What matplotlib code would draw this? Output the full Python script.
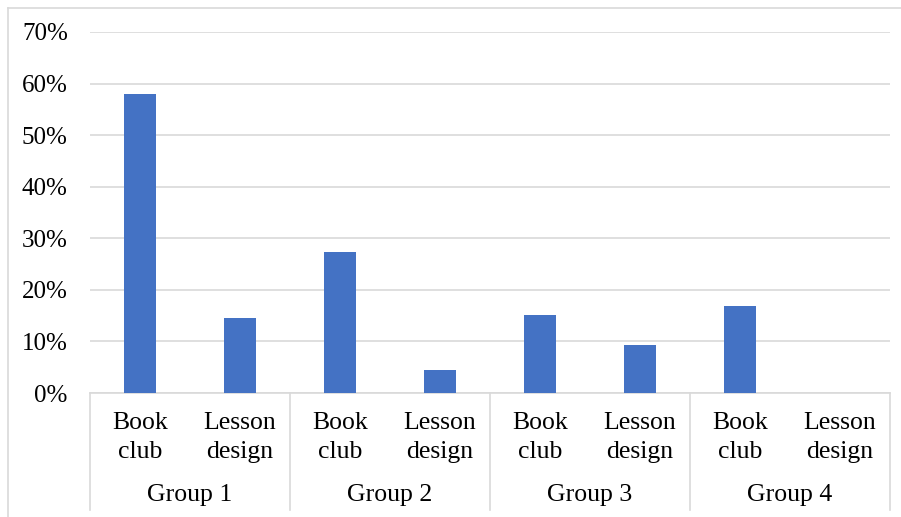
import matplotlib
matplotlib.use("Agg")
import matplotlib.pyplot as plt
from matplotlib.lines import Line2D
from matplotlib.ticker import PercentFormatter

groups = ['Group 1', 'Group 2', 'Group 3', 'Group 4']
activities = ['Book\nclub', 'Lesson\ndesign']
# share per group, order: book club, lesson design
values = {
    'Group 1': [0.58, 0.145],
    'Group 2': [0.273, 0.045],
    'Group 3': [0.151, 0.093],
    'Group 4': [0.169, 0.0],
}
yticks = [0, 0.1, 0.2, 0.3, 0.4, 0.5, 0.6, 0.7]

plt.rcParams['font.family'] = ['Liberation Serif', 'DejaVu Serif']
W, H = 901, 517
fig = plt.figure(figsize=(W / 100, H / 100), dpi=100)
ax = fig.add_axes([90 / W, (H - 393) / H, 800 / W, 361 / H])

bar_color = '#4472C4'
grid_color = '#D9D9D9'

x = 0
for g in groups:
    for v in values[g]:
        ax.bar(x, v, width=0.32, color=bar_color, zorder=3)
        x += 1
n = x

ax.set_xlim(-0.5, n - 0.5)
ax.set_ylim(0, 0.7)
ax.set_yticks(yticks)
ax.yaxis.set_major_formatter(PercentFormatter(1.0, decimals=0))
ax.tick_params(axis='y', length=0, pad=16, labelsize=18)
ax.set_xticks([])
ax.grid(axis='y', color=grid_color, linewidth=1.2, zorder=0)
for s in ax.spines.values():
    s.set_visible(False)

trans = ax.get_xaxis_transform()
# category axis line
ax.plot([-0.5, n - 0.5], [0, 0], color=grid_color, lw=1.2, transform=trans, clip_on=False, zorder=2)

i = 0
for gi, g in enumerate(groups):
    for a in activities:
        ax.text(i, -0.124, a, transform=trans, ha='center', va='center',
                fontsize=18.5, linespacing=1.4)
        i += 1
    ax.text(gi * 2 + 0.5, -0.283, g, transform=trans, ha='center', va='center', fontsize=18.5)

for k in range(len(groups) + 1):
    xs = k * 2 - 0.5
    ax.plot([xs, xs], [0, -0.324], color=grid_color, lw=1.2, transform=trans, clip_on=False)

# chart border (cropped on right / bottom)
fig.add_artist(Line2D([8 / W, 8 / W], [0, (H - 8) / H], color=grid_color, lw=1.2))
fig.add_artist(Line2D([8 / W, 1], [(H - 8) / H, (H - 8) / H], color=grid_color, lw=1.2))

fig.savefig('out.png', dpi=100)
